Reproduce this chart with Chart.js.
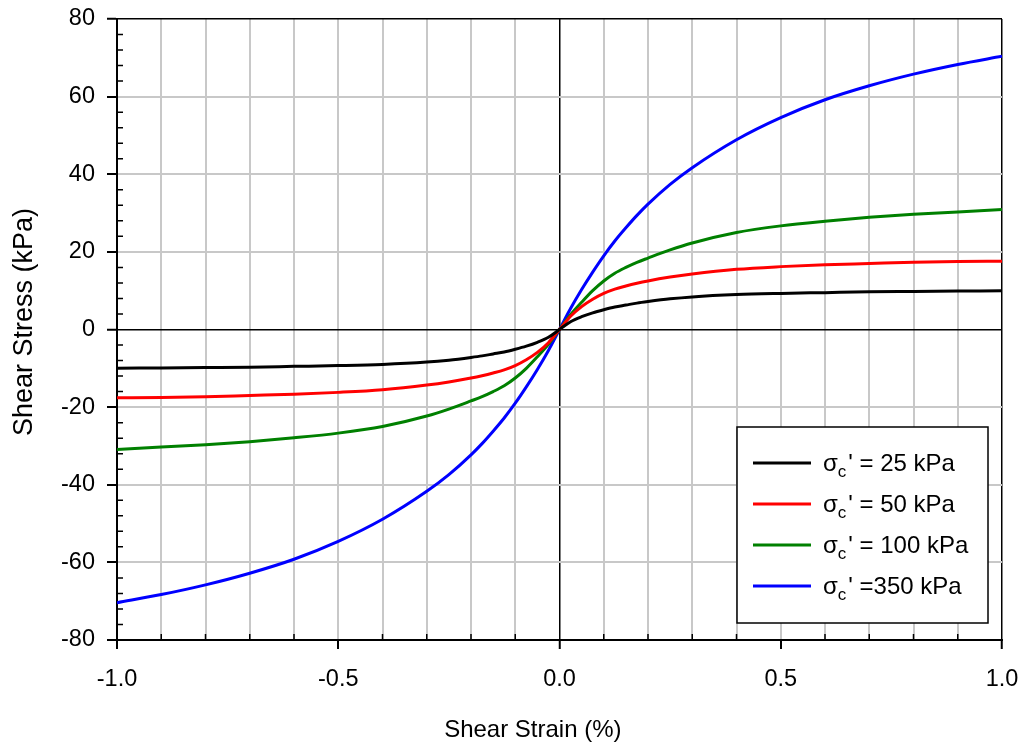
<!DOCTYPE html>
<html>
<head>
<meta charset="utf-8">
<script src="https://cdn.jsdelivr.net/npm/chart.js@4"></script>
<style>
body { margin: 0; background: #fff; }
#wrap { width: 1021px; height: 749px; }
</style>
</head>
<body>
<div id="wrap"><canvas id="myChart"></canvas></div>
<script>
// shear strain (%) and shear stress (kPa)
var strain = [-1.0, -0.9, -0.8, -0.7, -0.6, -0.5, -0.4, -0.3, -0.25, -0.2, -0.175, -0.15, -0.125, -0.1, -0.075, -0.05, -0.025, 0,
    0.025, 0.05, 0.075, 0.1, 0.125, 0.15, 0.175, 0.2, 0.25, 0.3, 0.4, 0.5, 0.6, 0.7, 0.8, 0.9, 1.0];
var tau25 = [-10.0, -9.9, -9.8, -9.7, -9.5, -9.3, -9.0, -8.4, -7.9, -7.2, -6.8, -6.3, -5.8, -5.1, -4.3, -3.3, -2.0, 0,
    2.0, 3.3, 4.3, 5.1, 5.8, 6.3, 6.8, 7.2, 7.9, 8.4, 9.0, 9.3, 9.5, 9.7, 9.8, 9.9, 10.0];
var tau50 = [-17.6, -17.5, -17.3, -17.0, -16.7, -16.2, -15.5, -14.3, -13.5, -12.5, -11.9, -11.2, -10.4, -9.3, -7.8, -5.9, -3.4, 0,
    3.4, 5.9, 7.8, 9.3, 10.4, 11.2, 11.9, 12.5, 13.5, 14.3, 15.5, 16.2, 16.7, 17.0, 17.3, 17.5, 17.6];
var tau100 = [-30.9, -30.3, -29.7, -28.9, -27.9, -26.7, -25.0, -22.3, -20.5, -18.4, -17.3, -16.0, -14.5, -12.5, -10.0, -7.0, -3.8, 0,
    3.8, 7.0, 10.0, 12.5, 14.5, 16.0, 17.3, 18.4, 20.5, 22.3, 25.0, 26.7, 27.9, 28.9, 29.7, 30.3, 30.9];
var tau350 = [-70.4, -68.3, -65.8, -62.8, -59.2, -54.6, -48.9, -41.7, -37.4, -32.3, -29.4, -26.2, -22.8, -19.0, -14.8, -10.3, -5.4, 0,
    5.4, 10.3, 14.8, 19.0, 22.8, 26.2, 29.4, 32.3, 37.4, 41.7, 48.9, 54.6, 59.2, 62.8, 65.8, 68.3, 70.4];

var seriesLabels = ["σc' = 25 kPa", "σc' = 50 kPa", "σc' = 100 kPa", "σc' =350 kPa"];
var seriesColors = ['#000000', '#ff0000', '#008000', '#0000ff'];
var xMajorTicks = [-1.0, -0.5, 0.0, 0.5, 1.0];
var yMajorTicks = [-80, -60, -40, -20, 0, 20, 40, 60, 80];

var FONT = '"Liberation Sans", Arial, sans-serif';

function toPoints(ys) {
    return strain.map(function (x, i) { return { x: x, y: ys[i] }; });
}
function isXMajor(v) {
    var r = Math.round(v * 10) / 10;
    return xMajorTicks.some(function (m) { return Math.abs(m - r) < 1e-9; });
}
function isYMajor(v) {
    return yMajorTicks.indexOf(Math.round(v)) >= 0;
}

// small inside ticks between the labelled ones
var minorTicks = {
    id: 'minorTicks',
    afterDraw: function (chart) {
        var ctx = chart.ctx, xs = chart.scales.x, ys = chart.scales.y, a = chart.chartArea;
        ctx.save();
        ctx.strokeStyle = '#000';
        ctx.lineWidth = 1.5;
        ctx.beginPath();
        for (var v = -76; v < 80; v += 4) {
            if (v % 20 === 0) continue;
            var py = ys.getPixelForValue(v);
            ctx.moveTo(a.left, py);
            ctx.lineTo(a.left + 6, py);
        }
        for (var i = -9; i < 10; i++) {
            if (i % 5 === 0) continue;
            var px = xs.getPixelForValue(i / 10);
            ctx.moveTo(px, a.bottom);
            ctx.lineTo(px, a.bottom - 6);
        }
        ctx.stroke();
        ctx.restore();
    }
};

// boxed legend with subscript c
var boxLegend = {
    id: 'boxLegend',
    afterDraw: function (chart) {
        var ctx = chart.ctx, a = chart.chartArea;
        var left = a.right - 265, top = a.bottom - 213, w = 251, h = 196;
        ctx.save();
        ctx.fillStyle = '#fff';
        ctx.fillRect(left, top, w, h);
        ctx.strokeStyle = '#000';
        ctx.lineWidth = 1.5;
        ctx.strokeRect(left, top, w, h);
        chart.data.datasets.forEach(function (ds, i) {
            var ly = top + 36 + i * 41;
            ctx.strokeStyle = ds.borderColor;
            ctx.lineWidth = 3;
            ctx.beginPath();
            ctx.moveTo(left + 16, ly);
            ctx.lineTo(left + 74, ly);
            ctx.stroke();
            var label = ds.label, tx = left + 86, base = ly + 8;
            ctx.fillStyle = '#000';
            ctx.textBaseline = 'alphabetic';
            ctx.textAlign = 'left';
            ctx.font = '24px ' + FONT;
            ctx.fillText(label.charAt(0), tx, base);
            tx += ctx.measureText(label.charAt(0)).width;
            ctx.font = '17px ' + FONT;
            ctx.fillText(label.charAt(1), tx, base + 6);
            tx += ctx.measureText(label.charAt(1)).width + 2;
            ctx.font = '24px ' + FONT;
            ctx.fillText(label.slice(2), tx, base);
        });
        ctx.restore();
    }
};

var ctx = document.getElementById('myChart');
var myChart = new Chart(ctx, {
    type: 'scatter',
    data: {
        datasets: [tau25, tau50, tau100, tau350].map(function (ys, i) {
            return {
                label: seriesLabels[i],
                data: toPoints(ys),
                showLine: true,
                borderColor: seriesColors[i],
                backgroundColor: seriesColors[i],
                borderWidth: 3,
                pointRadius: 0,
                cubicInterpolationMode: 'monotone',
                fill: false
            };
        })
    },
    options: {
        responsive: true,
        maintainAspectRatio: false,
        animation: false,
        layout: { padding: { top: 19, right: 19, left: 0, bottom: 0 } },
        plugins: {
            legend: { display: false },
            tooltip: { enabled: false }
        },
        scales: {
            x: {
                type: 'linear',
                min: -1,
                max: 1,
                afterFit: function (s) { s.height = 109; s.paddingLeft = 0; s.paddingRight = 0; },
                border: { color: '#000', width: 2 },
                grid: {
                    color: function (c) {
                        var v = Math.round(c.tick.value * 10) / 10;
                        return (v === 0 || v === 1) ? '#000' : '#c8c8c8';
                    },
                    lineWidth: function (c) {
                        var v = Math.round(c.tick.value * 10) / 10;
                        return (v === 0 || v === 1) ? 1.5 : 2;
                    },
                    tickColor: function (c) { return isXMajor(c.tick.value) ? '#000' : 'rgba(0,0,0,0)'; },
                    tickLength: 9,
                    tickWidth: 2
                },
                ticks: {
                    stepSize: 0.1,
                    autoSkip: false,
                    maxRotation: 0,
                    padding: 16,
                    color: '#000',
                    font: { family: FONT, size: 23.5 },
                    callback: function (v) { return isXMajor(v) ? (Math.round(v * 10) / 10).toFixed(1) : ''; }
                },
                title: {
                    display: true,
                    text: 'Shear Strain (%)        ',
                    color: '#000',
                    font: { family: FONT, size: 24 },
                    padding: { top: 0, bottom: 4 }
                }
            },
            y: {
                min: -80,
                max: 80,
                afterFit: function (s) { s.width = 117; s.paddingTop = 0; s.paddingBottom = 0; },
                border: { color: '#000', width: 2 },
                grid: {
                    color: function (c) {
                        var v = c.tick.value;
                        if (v === 0 || v === 80) return '#000';
                        return v % 20 === 0 ? '#c8c8c8' : 'rgba(0,0,0,0)';
                    },
                    lineWidth: function (c) {
                        var v = c.tick.value;
                        return (v === 0 || v === 80) ? 1.5 : 2;
                    },
                    tickColor: function (c) { return isYMajor(c.tick.value) && c.tick.value % 20 === 0 ? '#000' : 'rgba(0,0,0,0)'; },
                    tickLength: 10,
                    tickWidth: 2
                },
                ticks: {
                    stepSize: 4,
                    autoSkip: false,
                    padding: 12,
                    color: '#000',
                    font: { family: FONT, size: 23.5 },
                    callback: function (v) { return (v % 20 === 0) ? String(v) : ''; }
                },
                title: {
                    display: true,
                    text: '  Shear Stress (kPa)',
                    color: '#000',
                    font: { family: FONT, size: 27 },
                    padding: { top: 8, bottom: 0 }
                }
            }
        }
    },
    plugins: [minorTicks, boxLegend]
});
</script>
</body>
</html>
